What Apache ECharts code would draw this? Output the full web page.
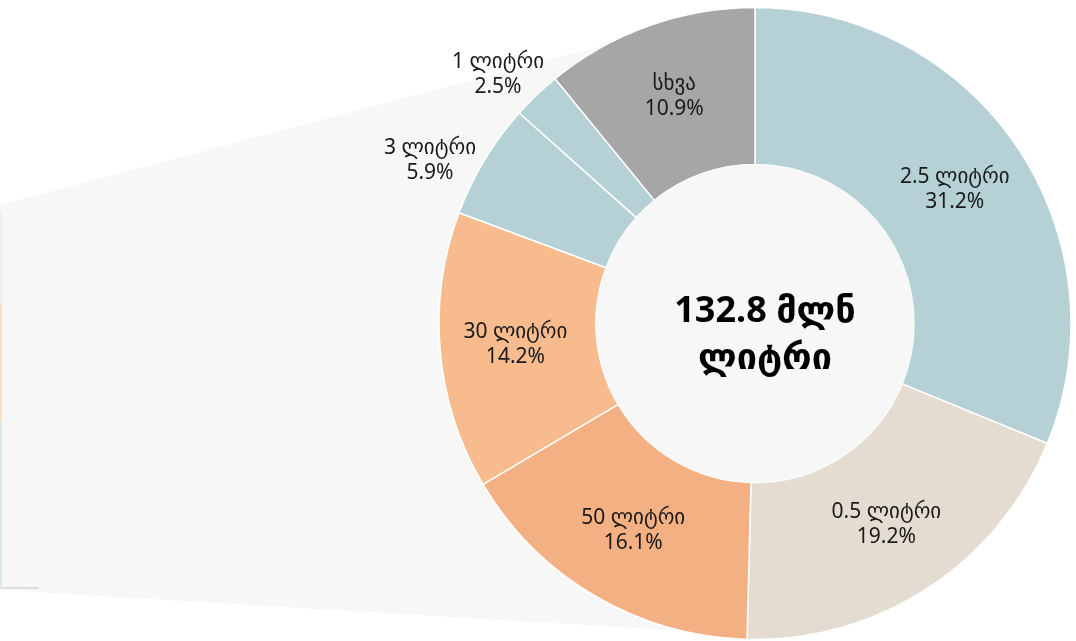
<!DOCTYPE html>
<html>
<head>
<meta charset="utf-8">
<script src="https://cdn.jsdelivr.net/npm/echarts@6/dist/echarts.min.js"></script>
<style>
html,body{margin:0;padding:0;background:#fff;}
#main{width:1076px;height:641px;}
</style>
</head>
<body>
<div id="main"></div>
<script>
// donut slices, clockwise from the top
var names = ['2.5 ლიტრი', '0.5 ლიტრი', '50 ლიტრი', '30 ლიტრი', '3 ლიტრი', '1 ლიტრი', 'სხვა'];
var shares = [31.2, 19.2, 16.1, 14.2, 5.9, 2.5, 10.9];
var colors = ['#b5d1d5', '#e5dcd1', '#f3b083', '#f7bb8e', '#b5d1d5', '#b5d1d5', '#a6a6a6'];
var centerText = '132.8 მლნ\nლიტრი';

// cut-off stacked bar on the left edge (bottom to top)
var stripValues = [44.3, 31.6, 24.1];
var stripColors = ['#b5d1d5', '#f7bb8e', '#e5dcd1'];
var stripSlots = ['', '', '', '', '', '', '', '', '', '', '', '', '', '', '', '', '', '', ''];

var font = '"Noto Sans", "DejaVu Sans ExtraLight", "DejaVu Sans", sans-serif';

var myChart = echarts.init(document.getElementById('main'));

function each(arr, fn){ for (var i = 0; i < arr.length; i++) fn(i, arr[i]); }

var pieData = [];
each(names, function(i, n){
    pieData.push({name: n, value: shares[i], itemStyle: {color: colors[i]}});
});

var stripSeries = [];
each(stripValues, function(i, v){
    stripSeries.push({
        type: 'bar',
        stack: 'strip',
        barWidth: '100%',
        silent: true,
        itemStyle: {color: stripColors[i], borderColor: '#fff', borderWidth: 0.5},
        data: [v]
    });
});

var option = {
    backgroundColor: '#fff',
    animation: false,
    grid: {left: 0, top: 212, width: 38, height: 376},
    xAxis: {
        type: 'category',
        data: stripSlots,
        axisLine: {show: true, lineStyle: {color: '#dddddd', width: 2}},
        axisTick: {show: false},
        axisLabel: {show: false}
    },
    yAxis: {type: 'value', min: 0, max: 100, show: false},
    graphic: [
        {
            type: 'polygon',
            z: -10,
            silent: true,
            shape: {points: [[0, 205], [620, 41], [755, 323], [720, 633], [0, 590]]},
            style: {fill: '#f7f7f7'}
        },
        {
            type: 'text',
            z: 100,
            x: 765,
            y: 335,
            silent: true,
            style: {
                text: centerText,
                font: 'bold 36px ' + font,
                fill: '#000',
                align: 'center',
                verticalAlign: 'middle',
                lineHeight: 47
            }
        }
    ],
    series: stripSeries.concat([
        {
            type: 'pie',
            silent: true,
            center: [755, 323.5],
            radius: [0, 159],
            z: 3,
            label: {show: false},
            itemStyle: {color: '#f7f7f7'},
            data: [1]
        },
        {
            name: '',
            type: 'pie',
            center: [755, 323.5],
            radius: [159, 316],
            startAngle: 90,
            clockwise: true,
            silent: true,
            z: 2,
            avoidLabelOverlap: false,
            itemStyle: {borderColor: '#fff', borderWidth: 1.5},
            label: {
                show: true,
                position: 'inside',
                formatter: function(p){ return p.name + '\n' + p.value.toFixed(1) + '%'; },
                fontFamily: font,
                fontSize: 21,
                lineHeight: 25,
                color: '#1a1a1a'
            },
            labelLine: {show: false},
            labelLayout: function(p){
                if (p.dataIndex === 5) return {x: 498, y: 75, align: 'center', verticalAlign: 'middle'};
                if (p.dataIndex === 4) return {x: 430, y: 161, align: 'center', verticalAlign: 'middle'};
            },
            data: pieData
        }
    ])
};

myChart.setOption(option);
</script>
</body>
</html>
